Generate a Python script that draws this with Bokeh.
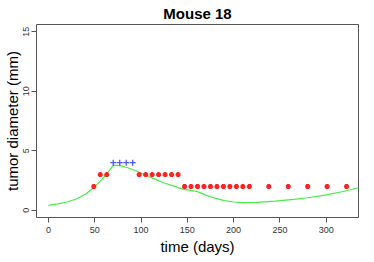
from bokeh.plotting import figure
from bokeh.models import Range1d, FixedTicker
from bokeh.embed import file_html
from bokeh.resources import INLINE

# observed diameters (red asterisks)
red_days = [49, 56, 63, 98, 105, 112, 119, 126, 133, 140,
            147, 154, 161, 168, 175, 182, 189, 196, 203, 210, 217,
            238, 259, 280, 301, 322]
red_diam = [2, 3, 3, 3, 3, 3, 3, 3, 3, 3,
            2, 2, 2, 2, 2, 2, 2, 2, 2, 2, 2,
            2, 2, 2, 2, 2]
# blue plus points
blue_days = [70, 77, 84, 91]
blue_diam = [4, 4, 4, 4]
# fitted curve (green)
fit_days = [0, 10, 20, 30, 40, 48, 56, 63, 70, 77, 85, 95, 105, 115, 125,
            135, 145, 155, 160, 165, 170, 180, 190, 200, 210, 225, 245,
            265, 280, 300, 317, 335]
fit_diam = [0.42, 0.55, 0.7, 0.95, 1.35, 1.85, 2.45, 3.05, 3.8, 3.75, 3.6,
            3.3, 2.95, 2.62, 2.3, 2.05, 1.78, 1.66, 1.6, 1.45, 1.28, 1.02,
            0.82, 0.7, 0.65, 0.67, 0.78, 0.92, 1.06, 1.3, 1.56, 1.9]

x_ticks = [0, 50, 100, 150, 200, 250, 300]
y_ticks = [0, 5, 10, 15]

FONT = "Liberation Sans"

p = figure(frame_width=322, frame_height=193, output_backend="svg",
           toolbar_location=None,
           x_range=Range1d(-12.9, 334.9), y_range=Range1d(-0.6, 15.6),
           min_border_left=28, min_border_right=8, min_border_top=22,
           min_border_bottom=35, title="Mouse 18")
p.title.align = "center"
p.title.text_font = FONT
p.title.text_font_size = "15px"
p.title.text_font_style = "bold"
p.title.text_color = "black"
p.title.offset = 0
p.title.standoff = 5

p.xgrid.visible = False
p.ygrid.visible = False
p.outline_line_color = "#555555"
p.outline_line_width = 1

for ax, ticks, lab in ((p.xaxis[0], x_ticks, "time (days)"),
                       (p.yaxis[0], y_ticks, "tumor diameter (mm)")):
    ax.ticker = FixedTicker(ticks=ticks)
    ax.axis_line_color = None
    ax.major_tick_out = 5
    ax.major_tick_in = 0
    ax.minor_tick_out = 0
    ax.minor_tick_in = 0
    ax.major_tick_line_color = "#555555"
    ax.major_label_text_font = FONT
    ax.major_label_text_font_size = "9px"
    ax.major_label_text_color = "#333333"
    ax.axis_label = lab
    ax.axis_label_text_font = FONT
    ax.axis_label_text_font_size = "15px"
    ax.axis_label_text_font_style = "normal"
    ax.axis_label_text_color = "black"

p.xaxis[0].major_label_standoff = 4
p.xaxis[0].axis_label_standoff = 2
p.yaxis[0].major_label_orientation = "parallel"
p.yaxis[0].major_label_standoff = 2
p.yaxis[0].axis_label_standoff = 0

p.line(fit_days, fit_diam, line_color="#44ee44", line_width=1.2)
p.scatter(red_days, red_diam, marker="asterisk", size=5, line_color="#ff2222",
          line_width=1.8)
p.scatter(blue_days, blue_diam, marker="cross", size=6, line_color="#5555ff",
          line_width=1.3)

open("out.html", "w").write(file_html(p, INLINE))
